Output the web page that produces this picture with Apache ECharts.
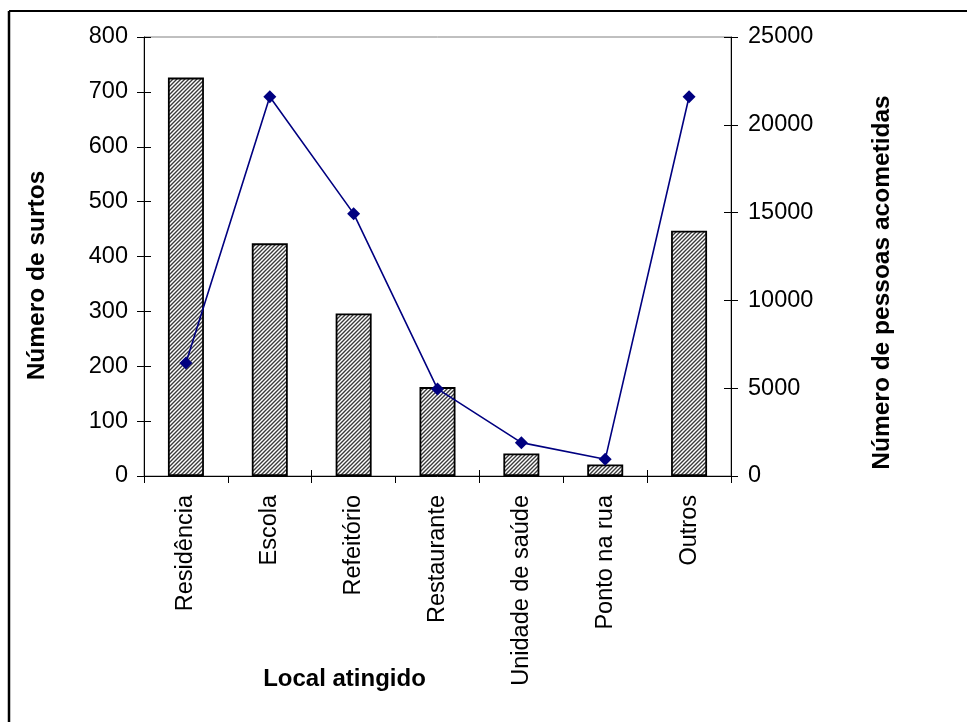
<!DOCTYPE html>
<html>
<head>
<meta charset="utf-8">
<script src="https://cdn.jsdelivr.net/npm/echarts@6/dist/echarts.min.js"></script>
<style>
html,body{margin:0;padding:0;background:#fff;}
#chart{width:967px;height:722px;}
</style>
</head>
<body>
<div id="chart"></div>
<script>
const categories = ['Residência','Escola','Refeitório','Restaurante','Unidade de saúde','Ponto na rua','Outros'];
const surtos = [726, 424, 296, 162, 41, 21, 447];
const pessoas = [6440, 21600, 14940, 4960, 1900, 950, 21600];
const leftTicks = {min: 0, max: 800, interval: 100};
const rightTicks = {min: 0, max: 25000, interval: 5000};

function makeHatch(){
  const s = 4;
  const c = document.createElement('canvas');
  c.width = s; c.height = s;
  const g = c.getContext('2d');
  g.fillStyle = '#ffffff';
  g.fillRect(0,0,s,s);
  g.strokeStyle = '#3a3a3a';
  g.lineWidth = 1.4;
  g.beginPath();
  for (let k = -1; k <= 1; k++) {
    g.moveTo(k*s - 1, s + 1);
    g.lineTo(k*s + s + 1, -1);
  }
  g.stroke();
  return c;
}

const FONT = '"Liberation Sans", Arial, sans-serif';
const chart = echarts.init(document.getElementById('chart'), null, {renderer:'canvas'});

const option = {
  animation: false,
  textStyle: {fontFamily: FONT},
  grid: {left: 144, right: 236, top: 37, bottom: 246, show: true, borderColor: '#808080', borderWidth: 1, backgroundColor: 'transparent'},
  xAxis: [
    {
      type: 'category', data: categories, position: 'bottom',
      boundaryGap: true,
      axisLine: {lineStyle: {color: '#000', width: 1}},
      axisTick: {show: true, length: 7, lineStyle: {color: '#000'}},
      axisLabel: {rotate: 90, margin: 19, fontSize: 23.5, color: '#000', fontFamily: FONT},
      name: 'Local atingido', nameLocation: 'middle', nameGap: 191, nameMoveOverlap: false,
      nameTextStyle: {fontSize: 24, fontWeight: 'bold', color: '#000', fontFamily: FONT, padding: [0, 186, 0, 0]}
    },
    {
      type: 'category', data: categories, position: 'bottom', offset: 0,
      axisLine: {show: false},
      axisTick: {show: true, inside: true, length: 6, lineStyle: {color: '#000'}},
      axisLabel: {show: false}
    }
  ],
  yAxis: [
    {
      type: 'value', position: 'left', min: leftTicks.min, max: leftTicks.max, interval: leftTicks.interval,
      axisLine: {show: true, lineStyle: {color: '#000'}},
      axisTick: {show: true, length: 7, lineStyle: {color: '#000'}},
      splitLine: {show: false},
      axisLabel: {margin: 16, fontSize: 23.5, color: '#000', fontFamily: FONT, formatter: v => String(v)},
      name: 'Número de surtos', nameLocation: 'middle', nameGap: 94, nameMoveOverlap: false,
      nameTextStyle: {fontSize: 24.5, fontWeight: 'bold', color: '#000', fontFamily: FONT, padding: [0, 38, 0, 0]}
    },
    {
      type: 'value', position: 'right', min: rightTicks.min, max: rightTicks.max, interval: rightTicks.interval,
      axisLine: {show: true, lineStyle: {color: '#000'}},
      axisTick: {show: true, length: 7, lineStyle: {color: '#000'}},
      splitLine: {show: false},
      axisLabel: {margin: 17, fontSize: 23.5, color: '#000', fontFamily: FONT, formatter: v => String(v)},
      name: 'Número de pessoas acometidas', nameLocation: 'middle', nameGap: 139, nameMoveOverlap: false,
      nameTextStyle: {fontSize: 24.5, fontWeight: 'bold', color: '#000', fontFamily: FONT, padding: [0, 52, 0, 0]}
    },
    {
      type: 'value', position: 'left', offset: 0, min: leftTicks.min, max: leftTicks.max, interval: leftTicks.interval,
      axisLine: {show: false}, splitLine: {show: false}, axisLabel: {show: false},
      axisTick: {show: true, inside: true, length: 7, lineStyle: {color: '#000'}}
    },
    {
      type: 'value', position: 'right', offset: 0, min: rightTicks.min, max: rightTicks.max, interval: rightTicks.interval,
      axisLine: {show: false}, splitLine: {show: false}, axisLabel: {show: false},
      axisTick: {show: true, inside: true, length: 7, lineStyle: {color: '#000'}}
    }
  ],
  series: [
    {
      type: 'bar', name: 'Número de surtos', data: surtos,
      xAxisIndex: 0, yAxisIndex: 0,
      barWidth: 36,
      itemStyle: {color: {image: makeHatch(), repeat: 'repeat'}, borderColor: '#000', borderWidth: 1.8}
    },
    {
      type: 'line', name: 'Número de pessoas acometidas', data: pessoas,
      xAxisIndex: 0, yAxisIndex: 1,
      symbol: 'diamond', symbolSize: 13,
      lineStyle: {color: '#000080', width: 1.6},
      itemStyle: {color: '#000080'}
    }
  ],
  graphic: [
    {type: 'line', shape: {x1: 9, y1: 11, x2: 967, y2: 11}, style: {stroke: '#000', lineWidth: 2}},
    {type: 'line', shape: {x1: 9, y1: 11, x2: 9, y2: 722}, style: {stroke: '#000', lineWidth: 2.5}}
  ]
};
chart.setOption(option);
</script>
</body>
</html>
